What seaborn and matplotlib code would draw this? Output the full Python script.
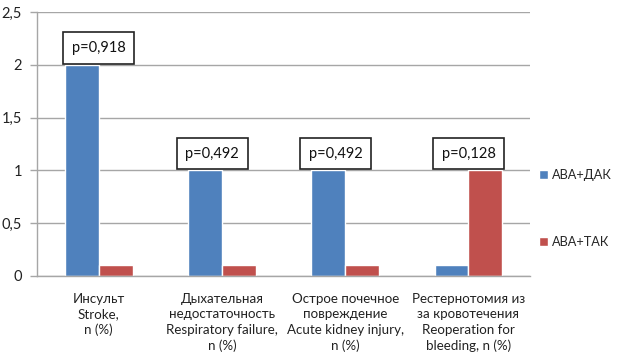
import matplotlib
matplotlib.use("Agg")
import matplotlib.pyplot as plt
import pandas as pd
import seaborn as sns

categories = [
    "Инсульт\nStroke,\nn (%)",
    "Дыхательная\nнедостаточность\nRespiratory failure,\nn (%)",
    "Острое почечное\nповреждение\nAcute kidney injury,\nn (%)",
    "Рестернотомия из\nза кровотечения\nReoperation for\nbleeding, n (%)",
]
groups = ["АВА+ДАК", "АВА+ТАК"]
dak_values = [2, 1, 1, 0.1]
tak_values = [0.1, 0.1, 0.1, 1]
p_labels = ["p=0,918", "p=0,492", "p=0,492", "p=0,128"]
y_ticks = [0, 0.5, 1, 1.5, 2, 2.5]
y_tick_labels = ["0", "0,5", "1", "1,5", "2", "2,5"]

colors = ["#4F81BD", "#C0504D"]
grid_color = "#A6A6A6"


def main():
    df = pd.DataFrame({
        "category": categories * 2,
        "group": [groups[0]] * 4 + [groups[1]] * 4,
        "value": dak_values + tak_values,
    })

    sns.set_style("white")
    plt.rcParams["font.family"] = ["Lato", "DejaVu Sans"]

    fig = plt.figure(figsize=(6.2, 3.63), dpi=100)
    ax = fig.add_axes([0.06, 0.24, 0.795, 0.727])
    sns.barplot(data=df, x="category", y="value", hue="group", palette=colors,
                width=0.55, saturation=1, ax=ax, legend=True)

    ax.set_ylim(0, 2.5)
    ax.set_xlim(-0.5, 3.5)
    ax.set_yticks(y_ticks)
    ax.set_yticklabels(y_tick_labels, fontsize=10.5, color="#222222")
    ax.yaxis.grid(True, color=grid_color, linewidth=1)
    ax.set_axisbelow(True)
    ax.set_xlabel("")
    ax.set_ylabel("")
    ax.tick_params(axis="x", which="major", length=0, pad=12, labelsize=9.6, labelcolor="#222222")
    for t in ax.get_xticklabels():
        t.set_linespacing(1.35)
    ax.set_xticks([-0.5, 0.5, 1.5, 2.5, 3.5], minor=True)
    ax.tick_params(axis="x", which="minor", length=5, color=grid_color, width=1)
    ax.tick_params(axis="y", length=5, color=grid_color, width=1, left=True, pad=6)
    for side in ["top", "right"]:
        ax.spines[side].set_visible(False)
    for side in ["left", "bottom"]:
        ax.spines[side].set_color(grid_color)
        ax.spines[side].set_linewidth(1)

    # p-value boxes sitting on the taller bar of each group
    box_shift = [0, -7, -7, 0]
    for i, label in enumerate(p_labels):
        top = max(dak_values[i], tak_values[i])
        ax.annotate(label, xy=(i, top), xytext=(box_shift[i], 7), textcoords="offset points",
                    ha="center", va="bottom", fontsize=10.5, color="#111111",
                    bbox=dict(boxstyle="square,pad=0.6", fc="white", ec="#222222", lw=1.2),
                    annotation_clip=False)

    handles, labels = ax.get_legend_handles_labels()
    ax.get_legend().remove()
    fig.legend(handles, labels, loc="upper left", bbox_to_anchor=(0.87, 0.535),
               frameon=False, fontsize=9.2, handlelength=0.7, handleheight=0.7,
               handletextpad=0.25, labelspacing=4.3, borderaxespad=0, borderpad=0)

    fig.savefig("out.png", dpi=100)
    plt.close(fig)


if __name__ == "__main__":
    main()
